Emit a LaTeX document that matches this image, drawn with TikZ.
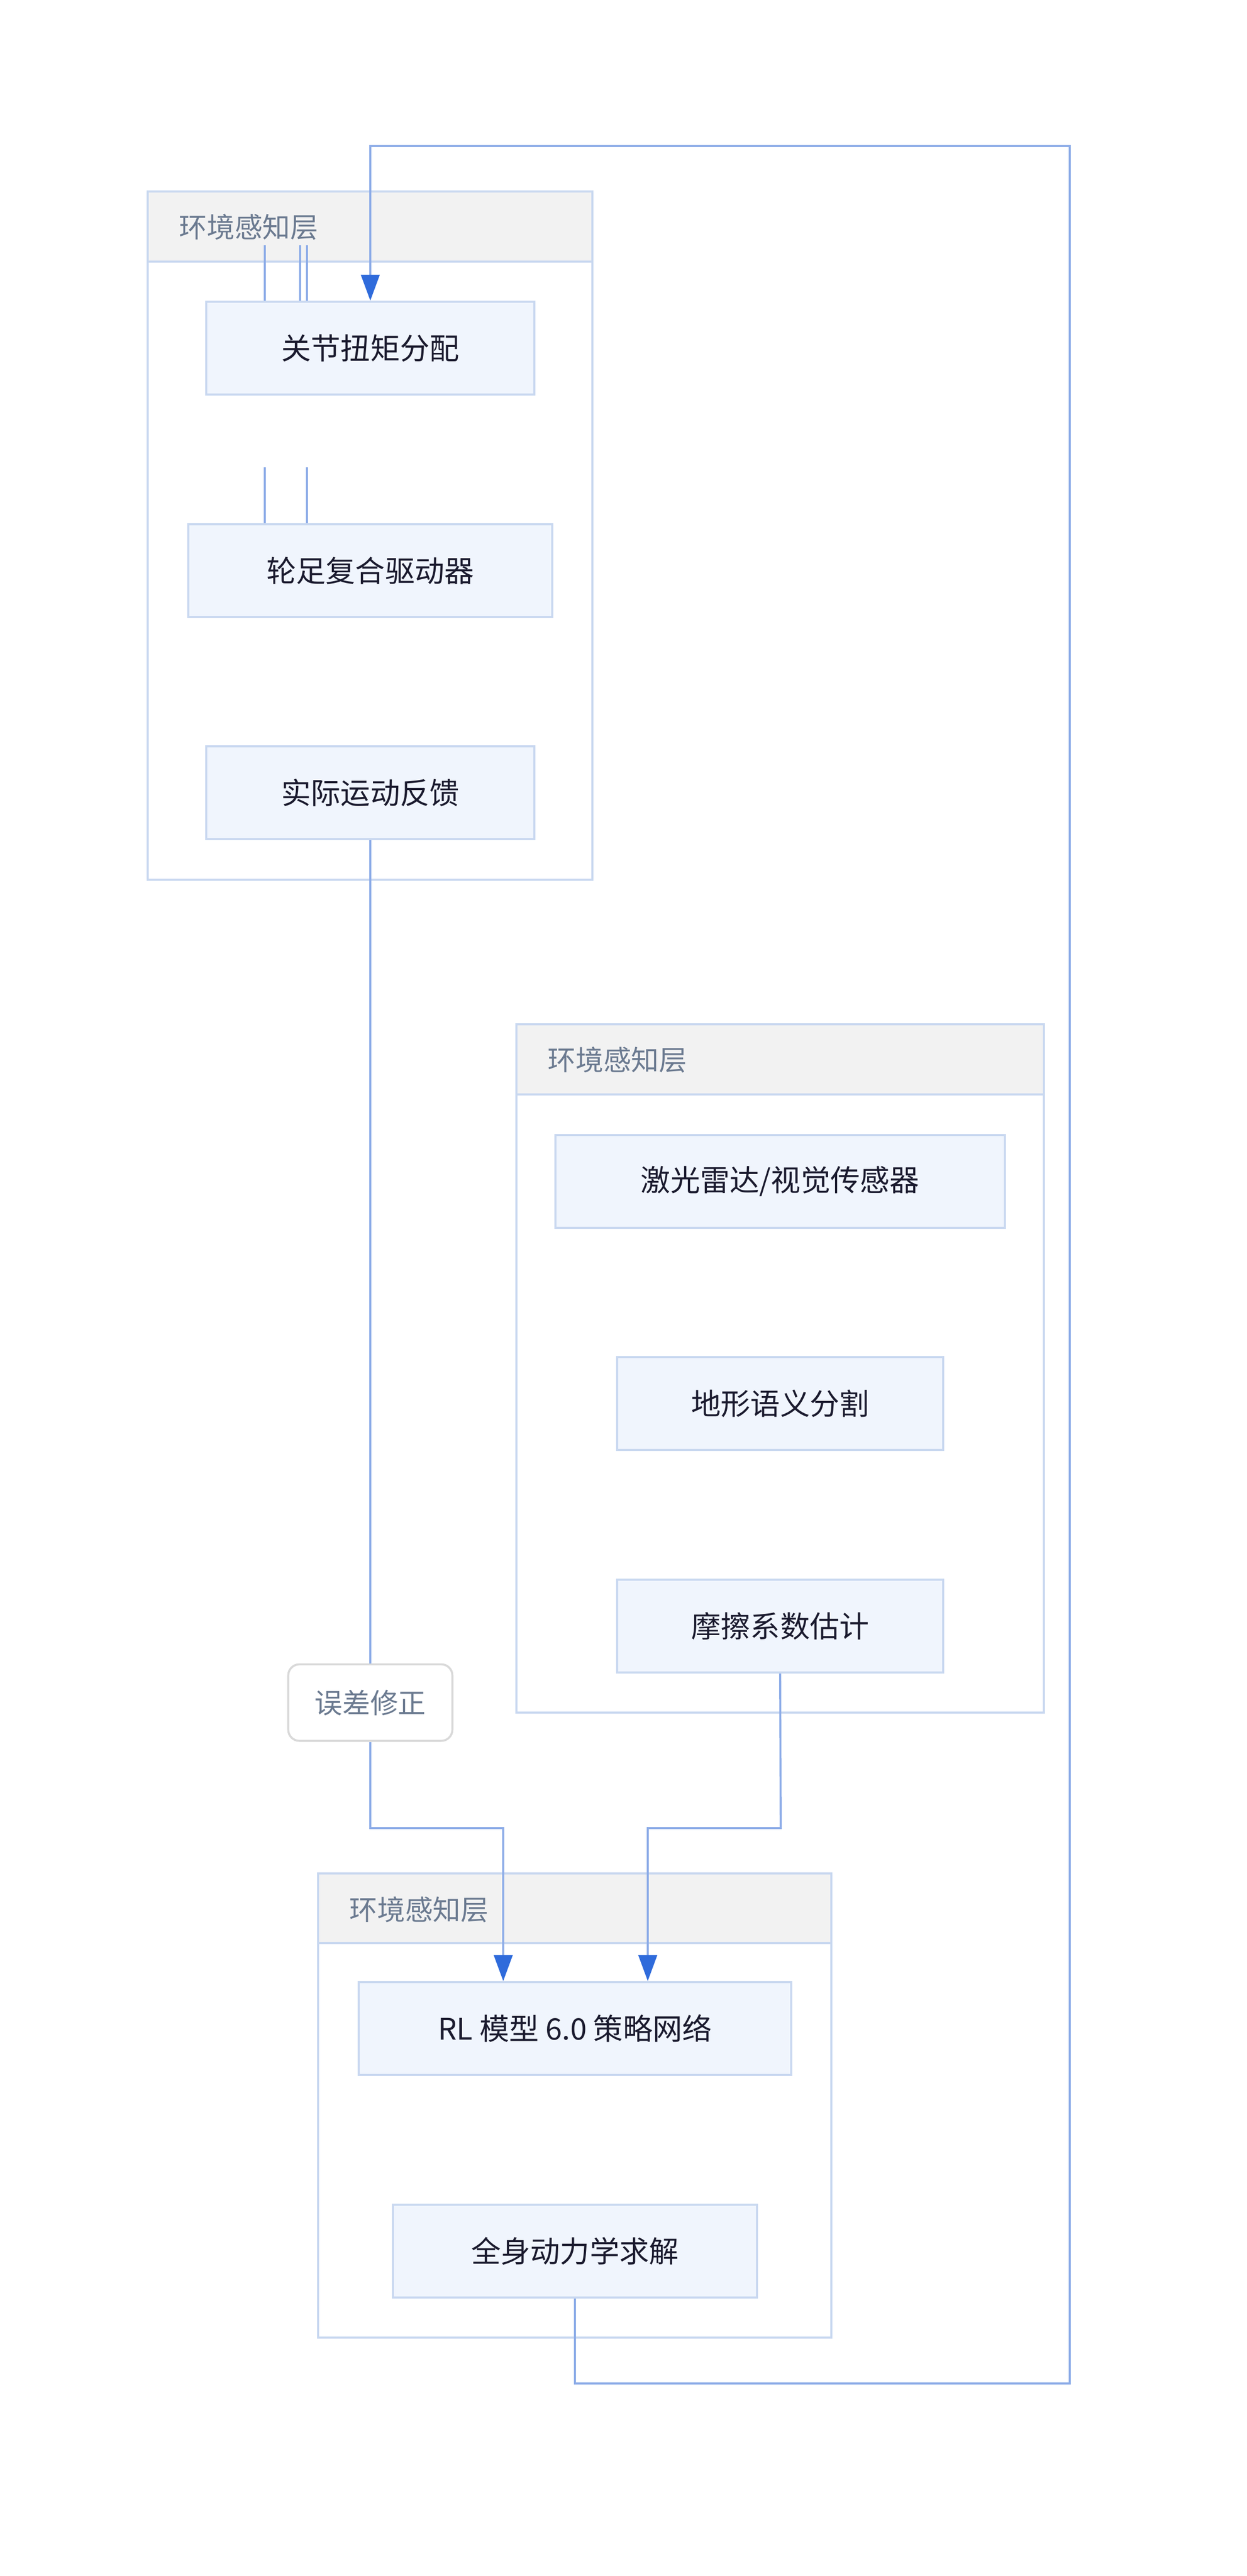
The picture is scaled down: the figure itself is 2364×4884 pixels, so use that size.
\documentclass[tikz,border=0pt]{standalone}
\usepackage{fontspec}
\setmainfont{Noto Sans CJK SC}
\usetikzlibrary{arrows.meta}
\definecolor{edge}{HTML}{8EADE8}
\definecolor{tip}{HTML}{2F6BDB}
\definecolor{bord}{HTML}{C9D8F0}
\definecolor{nfill}{HTML}{F0F5FD}
\definecolor{hfill}{HTML}{F2F2F2}
\definecolor{htext}{HTML}{6B7A90}
\definecolor{ntext}{HTML}{1A1A2E}
\tikzset{
 n/.style={draw=bord,fill=nfill,line width=1.1pt,text=ntext,font=\fontsize{16}{18}\selectfont,inner sep=0pt},
 grp/.style={draw=bord,line width=1.1pt,fill=white},
 hdr/.style={draw=bord,line width=1.1pt,fill=hfill},
 htx/.style={text=htext,font=\fontsize{15}{17}\selectfont,anchor=west,inner sep=0pt},
 e/.style={draw=edge,line width=1.1pt},
 ea/.style={e,-{Triangle[length=14pt,width=10pt,color=tip]}},
}
\begin{document}
\begin{tikzpicture}[x=0.01cm,y=-0.01cm]
\useasboundingbox (0,0) rectangle (2364,4884);
% groups
\draw[grp] (280,363) rectangle (1123,1668);
\draw[hdr] (280,363) rectangle (1123,496);
\node[htx] (h1) at (339,431) {环境感知层};
\draw[grp] (979,1942) rectangle (1979,3247);
\draw[hdr] (979,1942) rectangle (1979,2075);
\node[htx] (h2) at (1038,2010) {环境感知层};
\draw[grp] (603,3552) rectangle (1576,4432);
\draw[hdr] (603,3552) rectangle (1576,3684);
\node[htx] (h3) at (662,3620) {环境感知层};
% nodes
\node[n,minimum width=622\pgflinewidth/\pgflinewidth*0.01cm,minimum height=0.176cm*10] (a) at (702,660) {关节扭矩分配};
\node[n,minimum width=6.90cm,minimum height=1.76cm] (b) at (702,1082) {轮足复合驱动器};
\node[n,minimum width=6.22cm,minimum height=1.76cm] (c) at (702,1503) {实际运动反馈};
\node[n,minimum width=8.52cm,minimum height=1.76cm] (d) at (1479,2240) {激光雷达/视觉传感器};
\node[n,minimum width=6.18cm,minimum height=1.76cm] (f) at (1479,2661) {地形语义分割};
\node[n,minimum width=6.18cm,minimum height=1.76cm] (g) at (1479,3083) {摩擦系数估计};
\node[n,minimum width=8.19cm,minimum height=1.76cm] (r) at (1090,3846) {RL 模型 6.0 策略网络};
\node[n,minimum width=6.89cm,minimum height=1.76cm] (w) at (1090,4268) {全身动力学求解};
\node[draw=black!15,fill=white,rounded corners=6pt,line width=1.1pt,text=htext,font=\fontsize{15}{17}\selectfont,minimum width=3.11cm,minimum height=1.45cm] (lab) at (702,3228) {误差修正};
% stubs
\coordinate (s1) at (502,465); \coordinate (s2) at (569,465); \coordinate (s3) at (582,465);
\coordinate (t1) at (502,886); \coordinate (t3) at (582,886);
\draw[e] (s1) -- (s1 |- a.north);
\draw[e] (s2) -- (s2 |- a.north);
\draw[e] (s3) -- (s3 |- a.north);
\draw[e] (t1) -- (t1 |- b.north);
\draw[e] (t3) -- (t3 |- b.north);
% edges
\draw[e] (c.south) -- (lab.north);
\draw[ea] (lab.south) -- (702,3466) -- (954,3466) -- (954,3846 |- r.north);
\draw[ea] (g.south) -- (1480,3466) -- (1228,3466) -- (1228,3846 |- r.north);
\draw[ea] (w.south) -- (1090,4519) -- (2028,4519) -- (2028,277) -- (702,277) -- (a.north);
\end{tikzpicture}
\end{document}
